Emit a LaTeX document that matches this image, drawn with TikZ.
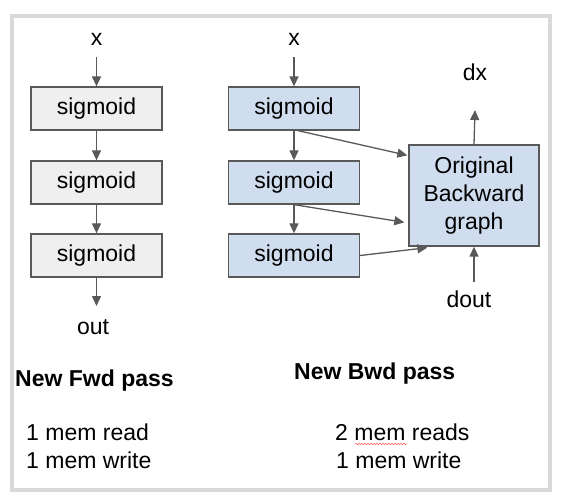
\documentclass[tikz,border=0pt]{standalone}
\usepackage{fontspec}
\setmainfont{Liberation Sans}
\usetikzlibrary{arrows.meta,decorations.pathmorphing}
\definecolor{edge}{HTML}{595959}
\definecolor{fwdfill}{HTML}{EFEFEF}
\definecolor{bwdfill}{HTML}{D0DDEF}
\definecolor{framecol}{HTML}{D9D9D9}
\begin{document}
\begin{tikzpicture}[x=1pt,y=-1pt,
  every node/.style={font=\fontsize{23}{28}\selectfont, text=black},
  opbox/.style={draw=edge, line width=1.3pt, minimum width=131pt, minimum height=43pt, inner sep=0pt},
  fwdbox/.style={opbox, fill=fwdfill},
  bwdbox/.style={opbox, fill=bwdfill},
  lbl/.style={inner sep=0pt, anchor=base},
  note/.style={inner sep=0pt, anchor=base west},
  arr/.style={draw=edge, line width=1.3pt, -{Triangle[length=10pt,width=9pt]}}]
\useasboundingbox (0,0) rectangle (564,502);
% outer frame
\draw[framecol, line width=4pt] (12,16) rectangle (550,490);

% forward pass column
\node[lbl] (fx) at (96.5,46) {x};
\node[fwdbox] (f1) at (96.5,108.5) {sigmoid};
\node[fwdbox] (f2) at (96.5,182.5) {sigmoid};
\node[fwdbox] (f3) at (96.5,255.5) {sigmoid};
\node[lbl] (fout) at (93,334) {out};
\draw[arr] ([yshift=-11pt]fx.base) -- (f1.north);
\draw[arr] (f1.south) -- (f2.north);
\draw[arr] (f2.south) -- (f3.north);
\draw[arr] (f3.south) -- ([xshift=3.5pt,yshift=28pt]fout.base);

% backward pass column
\node[lbl] (bx) at (294,46) {x};
\node[bwdbox] (b1) at (294,108.5) {sigmoid};
\node[bwdbox] (b2) at (294,182.5) {sigmoid};
\node[bwdbox] (b3) at (294,255.5) {sigmoid};
\node[draw=edge, line width=1.3pt, fill=bwdfill, minimum width=130pt, minimum height=101pt,
      inner sep=0pt, align=center] (bg) at (474,195.5) {Original\\Backward\\graph};
\node[lbl] (dx) at (475,81) {dx};
\node[lbl] (dout) at (469,307) {dout};
\draw[arr] ([yshift=-11pt]bx.base) -- (b1.north);
\draw[arr] (b1.south) -- (b2.north);
\draw[arr] (b2.south) -- (b3.north);
\draw[arr] ([xshift=4pt]b1.south) -- ([xshift=-1pt,yshift=-11pt]bg.north west);
\draw[arr] (b2.south) -- ([xshift=-4pt,yshift=-78pt]bg.north west);
\draw[arr] (b3.east) -- ([xshift=19pt,yshift=-1pt]bg.south west);
\draw[arr] (bg.north) -- ([yshift=-29pt]dx.base);
\draw[arr] ([xshift=5pt,yshift=25pt]dout.base) -- (bg.south);

% captions
\node[note, font=\fontsize{23}{28}\selectfont\bfseries] (fcap) at (15,386) {New Fwd pass};
\node[note, font=\fontsize{23}{28}\selectfont\bfseries] (bcap) at (294,379) {New Bwd pass};
\node[note] (fr) at (26,440) {1 mem read};
\node[note] (fw) at (26,468) {1 mem write};
\node[note] (br) at (335,440) {2 mem reads};
\node[note] (bw) at (336,468) {1 mem write};
% spell-check underline
\draw[red!65, line width=0.5pt, decorate,
      decoration={snake, amplitude=0.8pt, segment length=3pt}] (355,444) -- (407,444);
\end{tikzpicture}
\end{document}
